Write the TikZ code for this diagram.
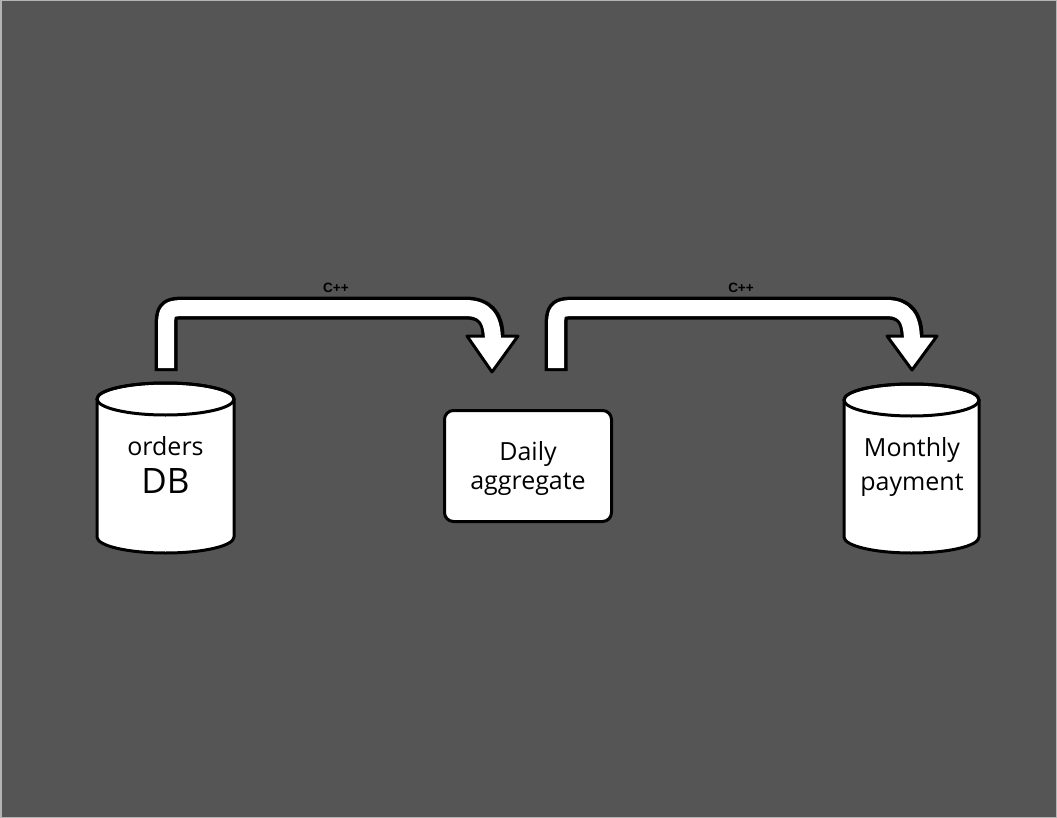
\documentclass[tikz,border=0pt]{standalone}
\usepackage{fontspec}
\setmainfont{Open Sans}
\newfontfamily\labelfont{Liberation Sans}
\definecolor{bg}{HTML}{555555}
\definecolor{frame}{HTML}{B4B4B4}
\begin{document}
\begin{tikzpicture}[x=1pt,y=-1pt,
  shapeline/.style={draw=black,line width=3pt,fill=white,line join=round},
  txt/.style={anchor=base,inner sep=0pt,text=black,font=\fontsize{25}{30}\selectfont},
  bandout/.style={draw=black,line width=23pt,line join=round},
  bandin/.style={draw=white,line width=16pt,line join=round},
  headstyle/.style={draw=black,line width=3pt,fill=white,line join=round},
  cpp/.style={font=\labelfont\bfseries\fontsize{13.5}{15}\selectfont,text=black,inner sep=0pt}]
\useasboundingbox (0,0) rectangle (1057,818);
\fill[bg] (0,0) rectangle (1057,818);
\draw[frame,line width=1.5pt] (0.75,0.75) rectangle (1056.25,817.25);

% orders DB cylinder
\path[shapeline] (97,399) -- (97,537) arc[start angle=180,end angle=0,x radius=68.5,y radius=16] -- (234,399) arc[start angle=0,end angle=-180,x radius=68.5,y radius=16] -- cycle;
\draw[line width=3pt] (165.5,399) ellipse[x radius=68.5,y radius=16];
\node[txt] (db1) at (165.5,455) {orders};
\node[txt,font=\fontsize{35}{40}\selectfont] (db2) at (165.5,493) {DB};

% Daily aggregate
\node[shapeline,rounded corners=9pt,minimum width=167pt,minimum height=111pt,inner sep=0pt] (agg) at (528,466) {};
\node[txt] (agg1) at (528,460) {Daily};
\node[txt] (agg2) at (528,489) {aggregate};

% Monthly payment cylinder
\path[shapeline] (844,400) -- (844,537) arc[start angle=180,end angle=0,x radius=67.5,y radius=16] -- (979,400) arc[start angle=0,end angle=-180,x radius=67.5,y radius=16] -- cycle;
\draw[line width=3pt] (911.5,400) ellipse[x radius=67.5,y radius=16];
\node[txt] (mp1) at (912,456) {Monthly};
\node[txt] (mp2) at (912,490) {payment};

% connector coordinates
\coordinate (s1) at (166,371);
\coordinate (s1i) at (166,368);
\coordinate (e1) at (493,337);
\coordinate (e1i) at (493,342);
\coordinate (t1) at (492,372);
\coordinate (s2) at (556,371);
\coordinate (s2i) at (556,368);
\coordinate (e2) at (912,337);
\coordinate (e2i) at (912,342);
\coordinate (t2) at (912,370);

% arrow 1
\draw[bandout] (s1) -- (166,332) .. controls (166,308) .. (190,308) -- (465,308) .. controls (485,308) and (493,318) .. (e1);
\path[headstyle] (467,336) -- (518,336) -- (t1) -- cycle;
\draw[bandin] (s1i) -- (166,332) .. controls (166,308) .. (190,308) -- (465,308) .. controls (485,308) and (493,318) .. (e1i);
\node[cpp] (l1) at (336,288) {C++};

% arrow 2
\draw[bandout] (s2) -- (556,332) .. controls (556,308) .. (580,308) -- (886,308) .. controls (905,308) and (912,318) .. (e2);
\path[headstyle] (887,336) -- (937,336) -- (t2) -- cycle;
\draw[bandin] (s2i) -- (556,332) .. controls (556,308) .. (580,308) -- (886,308) .. controls (905,308) and (912,318) .. (e2i);
\node[cpp] (l2) at (741,288) {C++};
\end{tikzpicture}
\end{document}
